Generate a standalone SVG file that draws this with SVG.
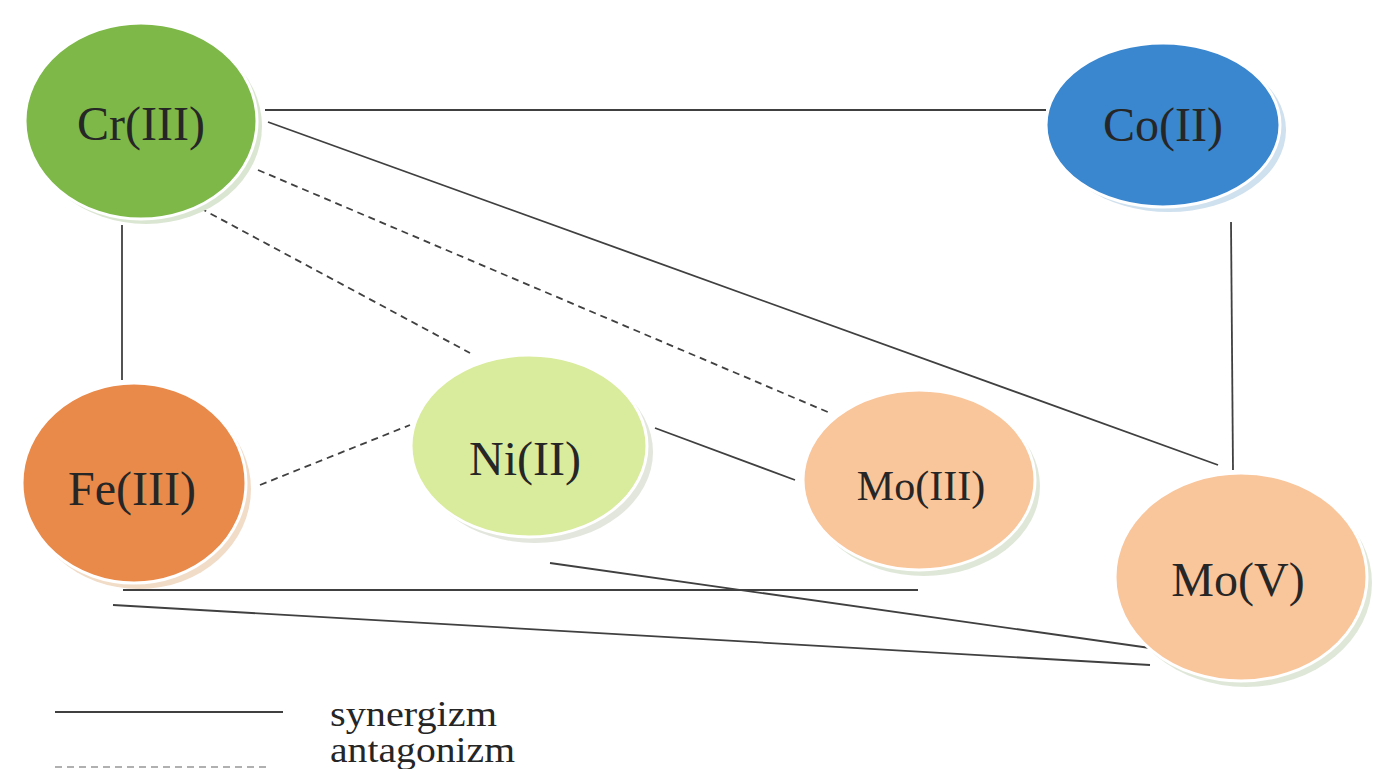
<svg xmlns="http://www.w3.org/2000/svg" width="1373" height="769" viewBox="0 0 1373 769">
<style>
.bg{fill:#ffffff}
.lbl{font-family:"Liberation Serif",serif;font-size:48px;fill:#262626;text-anchor:middle}
.leg{font-family:"Liberation Serif",serif;font-size:35px;fill:#262626}
.main{stroke:#ffffff;stroke-width:3}
.c{stroke:#404040;stroke-width:1.8;fill:none}
.d{stroke:#404040;stroke-width:1.8;fill:none;stroke-dasharray:7 5}
</style>
<rect class="bg" x="0" y="0" width="1373" height="769"/>
<g id="connectors">
<line class="c" x1="265" y1="110" x2="1046" y2="110"/>
<line class="c" x1="268" y1="122" x2="1218" y2="465"/>
<line class="d" x1="258" y1="170" x2="830" y2="413"/>
<line class="d" x1="200" y1="208" x2="470" y2="353"/>
<line class="c" x1="122" y1="225" x2="122" y2="380"/>
<line class="c" x1="1231" y1="222" x2="1233" y2="470"/>
<line class="d" x1="260" y1="485" x2="410" y2="425"/>
<line class="c" x1="655" y1="428" x2="795" y2="480"/>
<line class="c" x1="123" y1="590" x2="918" y2="590"/>
<line class="c" x1="550" y1="563" x2="1150" y2="648"/>
<line class="c" x1="113" y1="605" x2="1150" y2="665"/>
</g>
<g id="node-cr">
<ellipse cx="146" cy="126" rx="116" ry="98" fill="#dbe6d2"/>
<ellipse class="main" cx="141" cy="121" rx="116" ry="98" fill="#7db849"/>
<text class="lbl" x="141" y="140">Cr(III)</text>
</g>
<g id="node-co">
<ellipse cx="1169" cy="130" rx="117" ry="82" fill="#cfe0ee"/>
<ellipse class="main" cx="1163" cy="125" rx="117" ry="82" fill="#3a86cf"/>
<text class="lbl" x="1163" y="141">Co(II)</text>
</g>
<g id="node-fe">
<ellipse cx="139" cy="489" rx="112" ry="100" fill="#f1dcc8"/>
<ellipse class="main" cx="134" cy="483" rx="112" ry="100" fill="#e9894a"/>
<text class="lbl" x="132" y="505">Fe(III)</text>
</g>
<g id="node-ni">
<ellipse cx="535" cy="452" rx="118" ry="91" fill="#e2e6dc"/>
<ellipse class="main" cx="529" cy="446" rx="118" ry="91" fill="#d9eb9c"/>
<text class="lbl" x="525" y="475">Ni(II)</text>
</g>
<g id="node-mo3">
<ellipse cx="924" cy="486" rx="116" ry="90" fill="#dfe8d8"/>
<ellipse class="main" cx="919" cy="480" rx="116" ry="90" fill="#f9c59b"/>
<text class="lbl" x="921" y="500" style="font-size:42px">Mo(III)</text>
</g>
<g id="node-mo5">
<ellipse cx="1246" cy="583" rx="126" ry="104" fill="#dfe8d8"/>
<ellipse class="main" cx="1241" cy="577" rx="126" ry="104" fill="#f9c59b"/>
<text class="lbl" x="1238" y="596">Mo(V)</text>
</g>
<g id="legend">
<line class="c" x1="55" y1="712" x2="283" y2="712"/>
<text class="leg" x="330" y="726" textLength="167" lengthAdjust="spacingAndGlyphs">synergizm</text>
<text class="leg" x="330" y="762" textLength="185" lengthAdjust="spacingAndGlyphs">antagonizm</text>
<line class="d" x1="55" y1="767" x2="270" y2="767" style="stroke:#b0b0b0"/>
</g>
</svg>
